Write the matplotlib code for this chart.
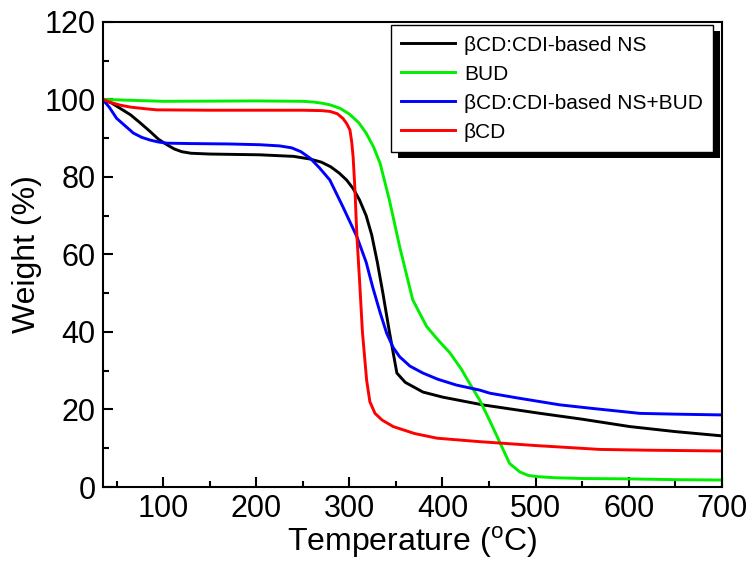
import matplotlib
matplotlib.use("Agg")
import matplotlib.pyplot as plt
from matplotlib.patches import Rectangle
from matplotlib.ticker import MultipleLocator

plt.rcParams['font.family'] = ['Liberation Sans', 'DejaVu Sans']

# --- data ---
t_ns = [35, 45, 55, 65, 75, 86, 95, 104, 112, 120, 130, 150, 204, 240, 258, 270, 280, 289, 297, 304, 311, 318, 324, 330, 336, 343, 351, 360, 379, 400, 443, 505, 550, 601, 650, 700]
w_ns = [100, 99, 97.5, 96, 94, 91.7, 89.7, 88.3, 87.2, 86.5, 86.1, 85.9, 85.7, 85.3, 84.6, 83.8, 82.6, 81.0, 79.2, 77, 74, 70, 65, 58, 50, 40, 29.4, 27, 24.5, 23.2, 21.2, 19, 17.5, 15.6, 14.3, 13.2]

t_bud = [35, 100, 200, 250, 262, 271, 279, 290, 300, 310, 318, 326, 333, 343, 354, 368, 383, 395, 408, 420, 429, 440, 451, 462, 472, 483, 492, 501, 520, 550, 600, 650, 700]
w_bud = [100, 99.5, 99.6, 99.5, 99.3, 99.0, 98.6, 97.7, 96.2, 94.0, 91.3, 87.7, 83.5, 74, 62, 48.3, 41.4, 38, 34.6, 30.5, 26.8, 22.4, 17, 11.3, 6.1, 3.9, 3.0, 2.7, 2.4, 2.2, 2.1, 1.9, 1.8]

t_nsb = [35, 42, 50, 59, 68, 77, 86, 95, 104, 130, 170, 204, 225, 238, 248, 258, 268, 279, 293, 308, 318, 325, 333, 340, 347, 354, 365, 379, 395, 415, 440, 451, 480, 526, 560, 612, 650, 700]
w_nsb = [100, 98, 95.1, 93.2, 91.3, 90.2, 89.5, 89.0, 88.7, 88.6, 88.5, 88.3, 88.0, 87.5, 86.5, 84.8, 82.3, 79.2, 72.3, 64.6, 58, 51.6, 45, 39.7, 36, 33.6, 31.2, 29.4, 27.8, 26.3, 25, 24.2, 23, 21.2, 20.3, 19, 18.8, 18.6]

t_cd = [35, 45, 54, 65, 80, 93, 150, 200, 250, 270, 279, 287, 293, 297, 300.6, 302.5, 304, 306, 308, 311, 314, 318.5, 322, 327.5, 335, 347, 370, 394, 440, 500, 569, 620, 700]
w_cd = [100, 99.1, 98.5, 98.0, 97.6, 97.3, 97.2, 97.2, 97.2, 97.1, 96.9, 96.3, 95.1, 93.8, 92.1, 89, 85.2, 76.6, 65, 53, 40, 27.6, 22, 19, 17.3, 15.6, 13.8, 12.6, 11.7, 10.7, 9.7, 9.5, 9.3]

labels = ['βCD:CDI-based NS', 'BUD', 'βCD:CDI-based NS+BUD', 'βCD']
colors = ['black', '#00ee00', '#0000ff', '#ff0000']

fig = plt.figure(figsize=(7.55, 5.75), dpi=100)
ax = fig.add_axes([0.136, 0.153, 0.820, 0.809])

series = [(t_ns, w_ns), (t_bud, w_bud), (t_nsb, w_nsb), (t_cd, w_cd)]
for (t, w), lab, c in zip(series, labels, colors):
    ax.plot(t, w, color=c, lw=2.1, label=lab, solid_joinstyle='round')

ax.set_xlim(35, 700)
ax.set_ylim(0, 120)
ax.xaxis.set_major_locator(MultipleLocator(100))
ax.xaxis.set_minor_locator(MultipleLocator(50))
ax.yaxis.set_major_locator(MultipleLocator(20))
ax.yaxis.set_minor_locator(MultipleLocator(10))
ax.tick_params(which='both', direction='in', top=False, right=False, width=1.5)
ax.tick_params(which='major', length=7, labelsize=22, pad=5)
ax.tick_params(which='minor', length=4)
for s in ax.spines.values():
    s.set_linewidth(1.5)

ax.set_xlabel(r'Temperature ($^\mathregular{o}$C)', fontsize=23, labelpad=0)
ax.set_ylabel('Weight (%)', fontsize=23, labelpad=2)

leg = ax.legend(loc='upper right', bbox_to_anchor=(0.986, 0.993), fontsize=15,
                frameon=True, fancybox=False, edgecolor='black', framealpha=1,
                handlelength=2.6, handletextpad=0.4, labelspacing=0.48,
                borderpad=0.5, borderaxespad=0)
leg.get_frame().set_linewidth(1.0)
leg.set_zorder(5)

fig.canvas.draw()
bb = leg.get_window_extent().transformed(fig.transFigure.inverted())
dx, dy = 7 / 755, 6 / 575
shadow = Rectangle((bb.x0 + dx, bb.y0 - dy), bb.width, bb.height,
                   transform=fig.transFigure, facecolor='black', edgecolor='none',
                   zorder=4)
ax.add_artist(shadow)
shadow.set_clip_on(False)

fig.savefig('out.png', dpi=100)
